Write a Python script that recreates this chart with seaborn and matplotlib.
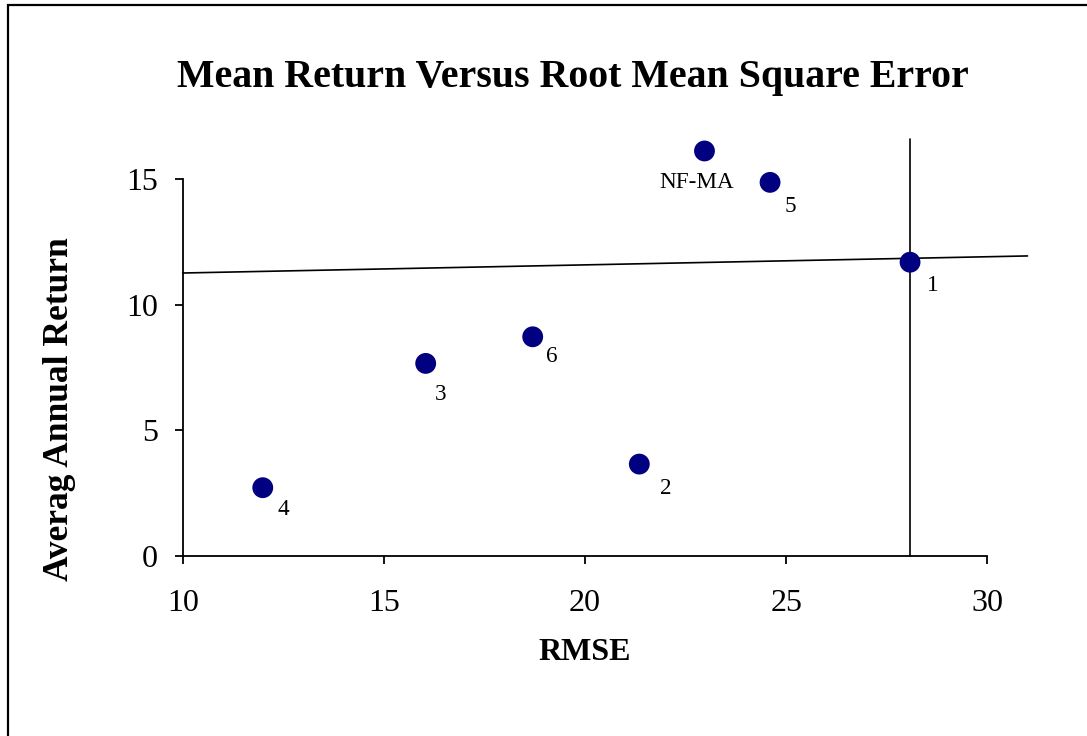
import numpy as np
import pandas as pd
import matplotlib
matplotlib.use("Agg")
import matplotlib.pyplot as plt
from matplotlib.patches import Rectangle
import seaborn as sns

# =========================
# Data
# =========================
labels = ["1", "2", "3", "4", "5", "6", "NF-MA"]
rmse = [28.08, 21.35, 16.04, 11.99, 24.60, 18.70, 22.97]
mean_return = [11.70, 3.66, 7.67, 2.72, 14.88, 8.73, 16.13]

# reference lines
vline_x = [28.08, 28.08]
vline_y = [0, 16.6]
hline_x = [10, 31]
hline_y = [11.27, 11.95]

x_ticks = [10, 15, 20, 25, 30]
y_ticks = [0, 5, 10, 15]

df = pd.DataFrame({"label": labels, "RMSE": rmse, "Return": mean_return})

# label offsets in pixels (text centre relative to point)
label_offsets = {
    "1": (23, -23), "2": (26, -24), "3": (15, -31), "4": (21, -22),
    "5": (20, -24), "6": (19, -20), "NF-MA": (-8, -32),
}

# =========================
# Style
# =========================
sns.set_style("white")
plt.rcParams["font.family"] = ["Liberation Serif", "DejaVu Serif"]
plt.rcParams["text.color"] = "black"
plt.rcParams["xtick.color"] = "black"
plt.rcParams["ytick.color"] = "black"

W, H = 1087, 736
fig = plt.figure(figsize=(W / 100, H / 100), dpi=100)

# axes: x 10 at px 182.7, 40.23 px/unit ; y 0 at px 556, 25.11 px/unit
x0, xpu = 182.7, 40.23
y0, ypu = 556.0, 25.11
xmin, xmax = 10, 31.5
ymin, ymax = 0, 17
left = x0 / W
width = (xmax - xmin) * xpu / W
bottom = 1 - y0 / H
height = (ymax - ymin) * ypu / H
ax = fig.add_axes([left, bottom, width, height])

# =========================
# Scatter
# =========================
sns.scatterplot(
    data=df, x="RMSE", y="Return",
    color="#000080", s=225, edgecolor="none",
    ax=ax, clip_on=False, zorder=3
)

# reference lines
ax.plot(vline_x, vline_y, color="black", linewidth=1.2, clip_on=False, zorder=2)
ax.plot(hline_x, hline_y, color="black", linewidth=1.2, clip_on=False, zorder=2)

# point labels
for lab, xv, yv in zip(df["label"], df["RMSE"], df["Return"]):
    dx, dy = label_offsets[lab]
    ax.annotate(
        lab, (xv, yv), xytext=(dx, dy), textcoords="offset pixels",
        ha="center", va="center", fontsize=16.7, color="black"
    )

# =========================
# Axes
# =========================
ax.set_xlim(xmin, xmax)
ax.set_ylim(ymin, ymax)
ax.set_xticks(x_ticks)
ax.set_yticks(y_ticks)
for sp in ["top", "right"]:
    ax.spines[sp].set_visible(False)
ax.spines["left"].set_bounds(0, 15)
ax.spines["bottom"].set_bounds(10, 30)
for sp in ["left", "bottom"]:
    ax.spines[sp].set_linewidth(1.3)
    ax.spines[sp].set_color("black")
ax.tick_params(axis="both", direction="out", length=6, width=1.3,
               labelsize=23, colors="black", bottom=True, left=True)
ax.tick_params(axis="x", pad=18)
ax.tick_params(axis="y", pad=12)
ax.set_xlabel("")
ax.set_ylabel("")
ax.patch.set_alpha(0)

# =========================
# Texts
# =========================
fig.text(573 / W, 1 - 87 / H, "Mean Return Versus Root Mean Square Error",
         ha="center", va="baseline", fontsize=28.7, fontweight="bold",
         color="black")
fig.text(585 / W, 1 - 660 / H, "RMSE",
         ha="center", va="baseline", fontsize=23, fontweight="bold",
         color="black")
fig.text(60 / W, 1 - 409 / H, "Averag Annual Return",
         ha="center", va="center", rotation=90, fontsize=25.5,
         fontweight="bold", color="black")

# outer frame
fig.patches.append(Rectangle(
    (8 / W, -0.1), 1.2, 1 - 5 / H + 0.1,
    transform=fig.transFigure, fill=False, edgecolor="black", linewidth=1.6
))

fig.savefig("out.png", dpi=100)
